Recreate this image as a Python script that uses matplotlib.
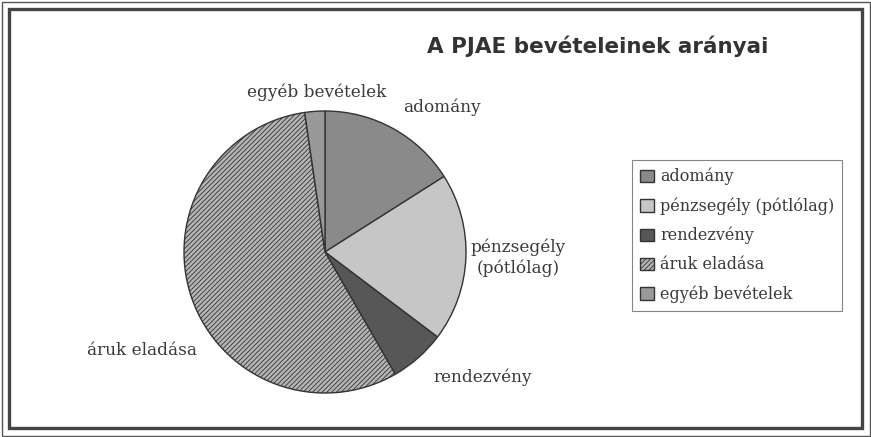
import numpy as np
import matplotlib.pyplot as plt
from matplotlib.patches import Rectangle

# data (percent of income)
labels = ['adomány', 'pénzsegély (pótlólag)', 'rendezvény', 'áruk eladása', 'egyéb bevételek']
pie_labels = ['adomány', 'pénzsegély\n(pótlólag)', 'rendezvény', 'áruk eladása', 'egyéb bevételek']
shares = [16.0, 19.3, 6.4, 56.0, 2.3]
fills = ['#8a8a8a', '#c6c6c6', '#575757', '#b4b4b4', '#999999']
hatches = [None, None, None, '///////', None]
title = 'A PJAE bevételeinek arányai'

plt.rcParams['hatch.color'] = '#666666'
plt.rcParams['hatch.linewidth'] = 0.6

W, H = 871, 437
fig = plt.figure(figsize=(W / 100, H / 100), dpi=100)

# double frame round the chart
fig.patches.append(Rectangle((1.5 / W, 1.5 / H), 1 - 3 / W, 1 - 3 / H, transform=fig.transFigure,
                             fill=False, ec='#555555', lw=1.0))
fig.patches.append(Rectangle((9 / W, 9 / H), 1 - 18 / W, 1 - 18 / H, transform=fig.transFigure,
                             fill=False, ec='#444444', lw=2.4))

# pie: centre (325, 252) px, radius 141 px
cx, cy, r = 325, 252, 141
ax = fig.add_axes([(cx - r) / W, (H - cy - r) / H, 2 * r / W, 2 * r / H])
wedges, _ = ax.pie(shares, startangle=90, counterclock=False, colors=fills, radius=1,
                   wedgeprops=dict(edgecolor='#333333', linewidth=1.0))
for w, h in zip(wedges, hatches):
    if h:
        w.set_hatch(h)
ax.set_xlim(-1, 1)
ax.set_ylim(-1, 1)
ax.set_aspect('equal')
ax.axis('off')

lab_font = dict(family='DejaVu Serif', fontsize=12.2, color='#3a3a3a')
lab_pos = [(0.83, 1.03), (1.37, -0.04), (1.12, -0.89), (-1.30, -0.70), (-0.06, 1.13)]
for t, (x, y) in zip(pie_labels, lab_pos):
    ax.text(x, y, t, ha='center', va='center', linespacing=1.3, **lab_font)

fig.text(598 / W, 1 - 46 / H, title, ha='center', va='center',
         fontsize=15.5, fontweight='bold', family='DejaVu Sans', color='#333333')

leg = fig.legend(wedges, labels, loc='upper left', bbox_to_anchor=(632 / W, 1 - 160 / H),
                 borderaxespad=0, frameon=True, fancybox=False, prop=dict(family='DejaVu Serif', size=11.5),
                 labelspacing=0.75, handlelength=0.85, handleheight=0.85, handletextpad=0.4,
                 borderpad=0.5)
leg.get_frame().set_edgecolor('#666666')
leg.get_frame().set_linewidth(0.8)
for t in leg.get_texts():
    t.set_color('#3a3a3a')

fig.savefig('out.png', dpi=100)
